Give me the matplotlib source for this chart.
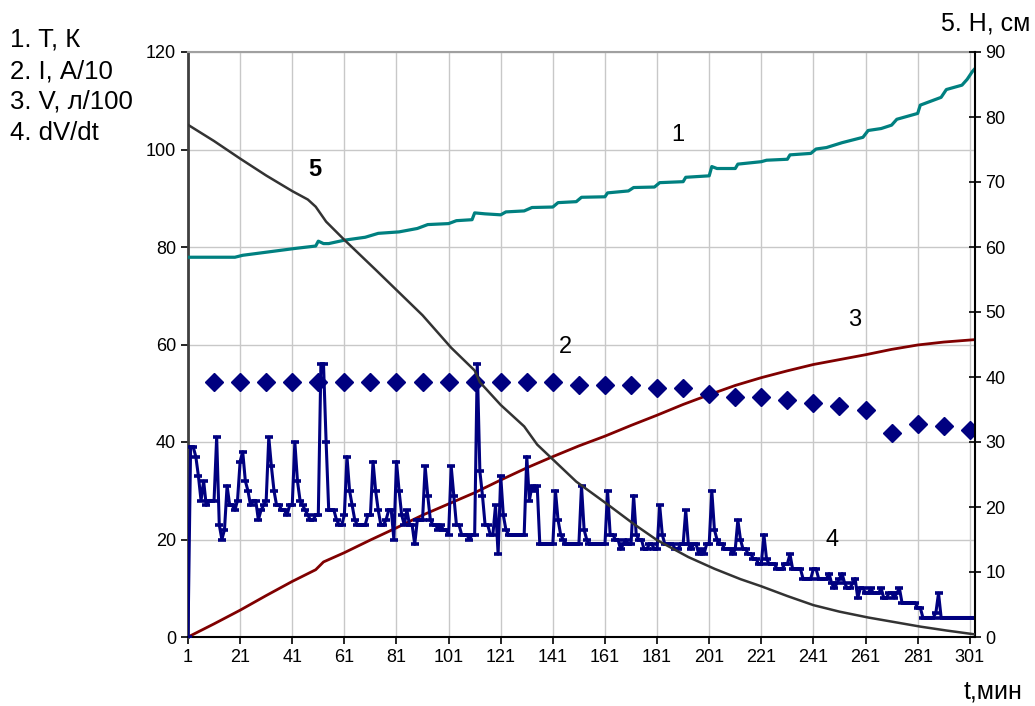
import numpy as np
import matplotlib
matplotlib.use("Agg")
import matplotlib.pyplot as plt

plt.rcParams['font.family'] = ['Liberation Sans', 'DejaVu Sans']

# 1. T, K  (step points)
t_x = [1, 19, 22, 32, 42, 50, 51, 53, 55, 61, 69, 74, 82, 89, 93, 101, 104, 110,
       111, 115, 121, 123, 130, 133, 141, 143, 150, 152, 161, 162, 170, 172, 180,
       182, 191, 192, 201, 202, 204, 211, 212, 221, 223, 231, 232, 240, 242, 246,
       252, 260, 262, 267, 271, 273, 281, 282, 290, 292, 298, 300, 302, 303]
t_val = [77.9, 77.9, 78.3, 79.0, 79.7, 80.2, 81.2, 80.7, 80.7, 81.4, 82.0, 82.8,
         83.1, 83.8, 84.6, 84.8, 85.4, 85.6, 87.0, 86.8, 86.6, 87.2, 87.4, 88.1,
         88.2, 89.1, 89.3, 90.2, 90.3, 91.1, 91.5, 92.2, 92.3, 93.2, 93.4, 94.3,
         94.6, 96.5, 96.1, 96.1, 97.0, 97.5, 97.8, 98.0, 98.9, 99.2, 100.1, 100.4,
         101.4, 102.5, 103.9, 104.3, 105.0, 106.2, 107.4, 109.1, 110.7, 112.3,
         113.2, 114.4, 116.0, 116.6]

# 2. I, A/10
i_x = list(range(11, 302, 10))
i_val = [52.3, 52.3, 52.3, 52.3, 52.3, 52.3, 52.3, 52.3, 52.3, 52.3,
         52.3, 52.3, 52.3, 52.3, 51.6, 51.6, 51.6, 51.0, 51.0, 49.9,
         49.2, 49.2, 48.6, 47.9, 47.4, 46.6, 41.9, 43.7, 43.3, 42.5]

# 3. V, l/100
v_x = [1, 11, 21, 31, 41, 47, 50, 53, 61, 71, 81, 91, 101, 111, 121, 131, 141, 151,
       161, 171, 181, 191, 201, 211, 221, 231, 241, 251, 261, 271, 281, 291, 303]
v_val = [0, 2.7, 5.5, 8.5, 11.4, 13.0, 13.8, 15.4, 17.3, 19.9, 22.4, 25.0, 27.3,
         29.6, 32.2, 34.7, 37.0, 39.2, 41.2, 43.4, 45.5, 47.7, 49.7, 51.6, 53.2,
         54.6, 55.9, 56.9, 57.9, 59.0, 59.9, 60.5, 61.0]

# 4. dV/dt, one value per minute
dv_val = [0, 39, 39, 37, 33, 28, 32, 27, 28, 28,
          28, 41, 23, 20, 22, 31, 27, 27, 26, 28,
          36, 38, 32, 30, 27, 28, 28, 24, 26, 27,
          28, 41, 35, 30, 27, 27, 26, 26, 25, 27,
          27, 40, 32, 28, 27, 26, 25, 24, 24, 25,
          25, 56, 56, 40, 26, 26, 26, 24, 23, 23,
          25, 37, 30, 27, 24, 23, 23, 23, 23, 25,
          25, 36, 30, 26, 23, 23, 24, 26, 26, 20,
          36, 30, 25, 23, 26, 23, 23, 19, 24, 24,
          24, 35, 29, 24, 23, 23, 22, 23, 22, 22,
          21, 35, 29, 23, 23, 21, 21, 21, 20, 21,
          21, 56, 34, 29, 23, 23, 21, 21, 27, 17,
          33, 25, 22, 21, 21, 21, 21, 21, 21, 21,
          37, 28, 31, 30, 31, 19, 19, 19, 19, 19,
          19, 30, 24, 21, 20, 19, 19, 19, 19, 19,
          19, 31, 22, 20, 19, 19, 19, 19, 19, 19,
          19, 30, 21, 21, 20, 20, 18, 19, 20, 19,
          19, 29, 21, 20, 20, 18, 18, 19, 19, 18,
          18, 27, 21, 19, 19, 19, 19, 18, 18, 19,
          19, 26, 19, 18, 19, 19, 17, 18, 17, 19,
          19, 30, 22, 20, 19, 19, 18, 18, 18, 17,
          18, 24, 20, 18, 18, 17, 17, 16, 16, 15,
          15, 21, 16, 15, 15, 15, 14, 14, 14, 15,
          15, 17, 14, 14, 14, 14, 12, 12, 12, 12,
          14, 14, 12, 12, 12, 12, 13, 11, 10, 11,
          12, 13, 11, 10, 10, 11, 12, 8, 10, 10,
          9, 9, 10, 9, 9, 9, 10, 8, 8, 9,
          9, 8, 9, 10, 7, 7, 7, 7, 7, 7,
          6, 6, 4, 4, 4, 4, 4, 5, 9, 4,
          4, 4, 4, 4, 4, 4, 4, 4, 4, 4,
          4, 4, 4]
dv_x = np.arange(1, len(dv_val) + 1)

# 5. H, cm (right axis)
h_x = [1, 11, 21, 31, 41, 47, 50, 54, 61, 73, 82, 91, 102, 111, 113, 121, 130, 135,
       140, 150, 162, 172, 181, 193, 203, 213, 221, 231, 241, 251, 262, 272, 282,
       292, 303]
h_val = [78.8, 76.3, 73.6, 71.0, 68.6, 67.3, 66.2, 63.9, 61.1, 56.5, 53.0, 49.5,
         44.5, 41.0, 39.2, 35.7, 32.4, 29.6, 27.7, 23.9, 20.4, 17.4, 14.9, 12.3,
         10.5, 8.9, 7.8, 6.3, 4.9, 3.9, 3.0, 2.3, 1.6, 1.0, 0.4]

x_ticks = list(range(1, 302, 20))

fig = plt.figure(figsize=(10.35, 7.06), dpi=100)
ax = fig.add_axes([188 / 1035, 1 - 637 / 706, (975 - 188) / 1035, (637 - 52) / 706])

ax.plot(t_x, t_val, color='#008080', lw=2.3, zorder=3)
ax.plot(i_x, i_val, ls='none', marker='D', ms=9.5, color='#000080', zorder=4)
ax.plot(v_x, v_val, color='#800000', lw=2.0, zorder=3)
ax.plot(dv_x, dv_val, color='#000080', lw=2.2, marker='_', ms=6, mew=2.6, zorder=5)

ax.set_xlim(1, 303)
ax.set_ylim(0, 120)
ax.set_xticks(x_ticks)
ax.set_yticks(range(0, 121, 20))
ax.grid(True, color='#c8c8c8', lw=1)
ax.set_axisbelow(True)
ax.tick_params(labelsize=13, length=5, width=1.2, direction='out')
ax.spines['left'].set_color('#404040')
ax.spines['left'].set_linewidth(2)
ax.spines['bottom'].set_linewidth(1.5)
ax.spines['top'].set_color('#a0a0a0')
ax.spines['top'].set_linewidth(1.5)
ax.spines['right'].set_visible(False)

ax2 = ax.twinx()
ax2.plot(h_x, h_val, color='#333333', lw=1.8, zorder=6)
ax2.set_ylim(0, 90)
ax2.set_yticks(range(0, 91, 10))
ax2.tick_params(labelsize=13, length=8, width=1.2, direction='inout')
for s in ['left', 'top', 'bottom']:
    ax2.spines[s].set_visible(False)
ax2.spines['right'].set_linewidth(1.5)

# curve numbers
ax.text(189, 103, '1', fontsize=17, ha='center', va='center')
ax.text(146, 59.5, '2', fontsize=17, ha='center', va='center')
ax.text(257, 65, '3', fontsize=17, ha='center', va='center')
ax.text(248, 20, '4', fontsize=17, ha='center', va='center')
ax.text(49.5, 96, '5', fontsize=17, fontweight='bold', ha='center', va='center')

legend_lines = ['1. T, К', '2. I, А/10', '3. V, л/100', '4. dV/dt']
for k, line in enumerate(legend_lines):
    fig.text(10 / 1035, 1 - (47 + 31 * k) / 706, line, fontsize=18.5, va='baseline')

fig.text(1030 / 1035, 1 - 30 / 706, '5. H, см', fontsize=18, ha='right', va='baseline')
fig.text(1022 / 1035, 1 - 698 / 706, 't,мин', fontsize=18, ha='right', va='baseline')

fig.savefig('out.png', dpi=100)
